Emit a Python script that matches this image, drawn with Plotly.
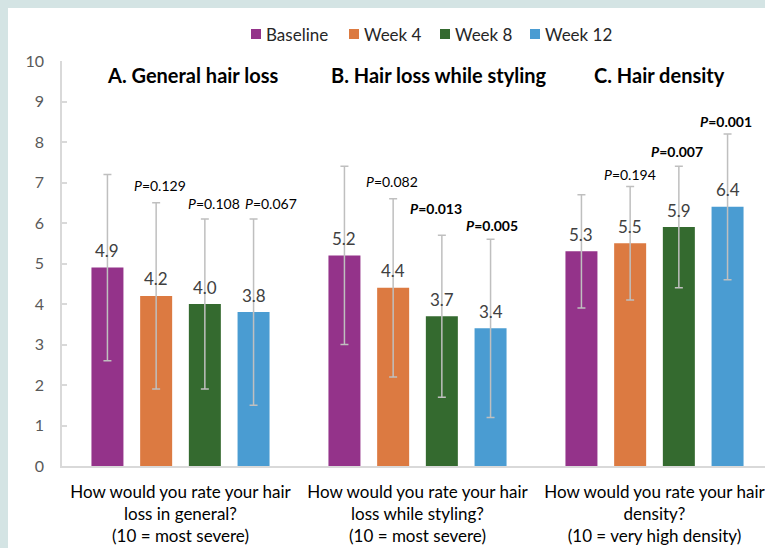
import plotly.graph_objects as go

# Questionnaire items (x-axis categories) and panel headings
categories = [
    "How would you rate your hair<br>loss in general?<br>(10 = most severe)",
    "How would you rate your hair<br>loss while styling?<br>(10 = most severe)",
    "How would you rate your hair<br>density?<br>(10 = very high density)",
]
panel_titles = ["A. General hair loss", "B. Hair loss while styling", "C. Hair density"]

# Visits
series_names = ["Baseline", "Week 4", "Week 8", "Week 12"]

# Mean scores per visit (one value per item)
baseline_mean = [4.9, 5.2, 5.3]
week4_mean = [4.2, 4.4, 5.5]
week8_mean = [4.0, 3.7, 5.9]
week12_mean = [3.8, 3.4, 6.4]

# Standard deviations
baseline_sd = [2.3, 2.2, 1.4]
week4_sd = [2.3, 2.2, 1.4]
week8_sd = [2.1, 2.0, 1.5]
week12_sd = [2.3, 2.2, 1.8]

# P-values versus baseline
week4_p = ["0.129", "0.082", "0.194"]
week8_p = ["0.108", "0.013", "0.007"]
week12_p = ["0.067", "0.005", "0.001"]

y_ticks = [0, 1, 2, 3, 4, 5, 6, 7, 8, 9, 10]

means = [baseline_mean, week4_mean, week8_mean, week12_mean]
sds = [baseline_sd, week4_sd, week8_sd, week12_sd]
pvals = [None, week4_p, week8_p, week12_p]
colors = ["#94338a", "#dc7a41", "#346a2f", "#4a9cd2"]

# Label nudges in pixels (x, y) for the p-value texts, per visit and item
p_nudge = {
    (1, 0): (4, 17), (2, 0): (9, 15), (3, 0): (17, 15),
    (1, 1): (-1, 17), (2, 1): (-6, 27), (3, 1): (1, 14),
    (1, 2): (0, 12), (2, 2): (-2, 15), (3, 2): (-2, 12),
}

FONT = "Lato"
W, H = 765, 548
ML, MR, MT, MB = 62, 0, 61, 82
plot_w = W - ML - MR
plot_h = H - MT - MB
group_px = 237.0
x_lo = -0.5
x_hi = x_lo + plot_w / group_px


def px_x(px):
    """Page pixel column -> paper x."""
    return (px - ML) / plot_w


def px_y(px):
    """Page pixel row -> paper y."""
    return (H - MB - px) / plot_h


bargap = 0.178
bargroupgap = 0.343
slot = (1 - bargap) / len(series_names)

fig = go.Figure()
x_pos = list(range(len(categories)))

for i, name in enumerate(series_names):
    fig.add_trace(go.Bar(
        name=name,
        x=x_pos,
        y=means[i],
        marker=dict(color=colors[i], line=dict(width=0)),
        error_y=dict(type="data", array=sds[i], visible=True,
                     color="#bfbfbf", thickness=1.5, width=4),
        hoverinfo="skip",
        showlegend=False,
    ))

annotations = []
shapes = []

for i in range(len(series_names)):
    off = (i - (len(series_names) - 1) / 2) * slot
    for g in range(len(categories)):
        xv = g + off
        # mean value label above the bar
        annotations.append(dict(
            x=xv, y=means[i][g], xref="x", yref="y",
            text=f"{means[i][g]:.1f}", showarrow=False,
            yanchor="middle", yshift=17,
            font=dict(family=FONT, size=17, color="#404040"),
        ))
        if pvals[i] is not None:
            p = pvals[i][g]
            txt = f"<i>P</i>={p}"
            if float(p) < 0.05:
                txt = f"<b>{txt}</b>"
            dx, dy = p_nudge[(i, g)]
            annotations.append(dict(
                x=xv, y=means[i][g] + sds[i][g], xref="x", yref="y",
                text=txt, showarrow=False,
                yanchor="middle", xshift=dx, yshift=dy,
                font=dict(family=FONT, size=14, color="#000000"),
            ))

# panel headings
title_px = [193, 439, 659]
for t, px in zip(panel_titles, title_px):
    annotations.append(dict(
        x=px_x(px), y=px_y(75),
        xref="paper", yref="paper", text=f"<b>{t}</b>", showarrow=False,
        xanchor="center", yanchor="middle",
        font=dict(family=FONT, size=20, color="#000000"),
    ))

# compact legend row: square swatch followed by the series name
legend_px = [251, 349, 440, 530]
legend_y = 34
for name, col, px in zip(series_names, colors, legend_px):
    shapes.append(dict(
        type="rect", xref="paper", yref="paper",
        x0=px_x(px), x1=px_x(px + 10),
        y0=px_y(legend_y + 5), y1=px_y(legend_y - 5),
        fillcolor=col, line=dict(width=0),
    ))
    annotations.append(dict(
        x=px_x(px + 13), y=px_y(legend_y), xref="paper", yref="paper",
        text=name, showarrow=False, xanchor="left", yanchor="middle",
        font=dict(family=FONT, size=17, color="#262626"),
    ))

# white card over the tinted page edge
shapes.append(dict(
    type="rect", xref="paper", yref="paper", layer="below",
    x0=px_x(8), x1=px_x(W + 20),
    y0=px_y(H + 20), y1=px_y(8),
    fillcolor="#ffffff", line=dict(width=0),
))

fig.update_layout(
    width=W, height=H,
    margin=dict(l=ML, r=MR, t=MT, b=MB, pad=0),
    paper_bgcolor="#d4e4e4",
    plot_bgcolor="rgba(0,0,0,0)",
    barmode="group",
    bargap=bargap,
    bargroupgap=bargroupgap,
    showlegend=False,
    annotations=annotations,
    shapes=shapes,
    font=dict(family=FONT),
)

fig.update_xaxes(
    range=[x_lo, x_hi],
    tickvals=x_pos, ticktext=categories,
    showline=True, linecolor="#d9d9d9", linewidth=1.5,
    ticks="", showgrid=False, zeroline=False,
    tickfont=dict(family=FONT, size=17, color="#000000"),
    ticklabelstandoff=10,
    ticklabeloverflow="allow",
)
fig.update_yaxes(
    range=[0, 10], tickvals=y_ticks,
    showline=True, linecolor="#d9d9d9", linewidth=1.5,
    ticks="inside", ticklen=5, tickcolor="#d9d9d9", tickwidth=1.5,
    showgrid=False, zeroline=False,
    tickfont=dict(family=FONT, size=16, color="#595959"),
    ticklabelstandoff=13,
)

fig.write_html("out.html")
